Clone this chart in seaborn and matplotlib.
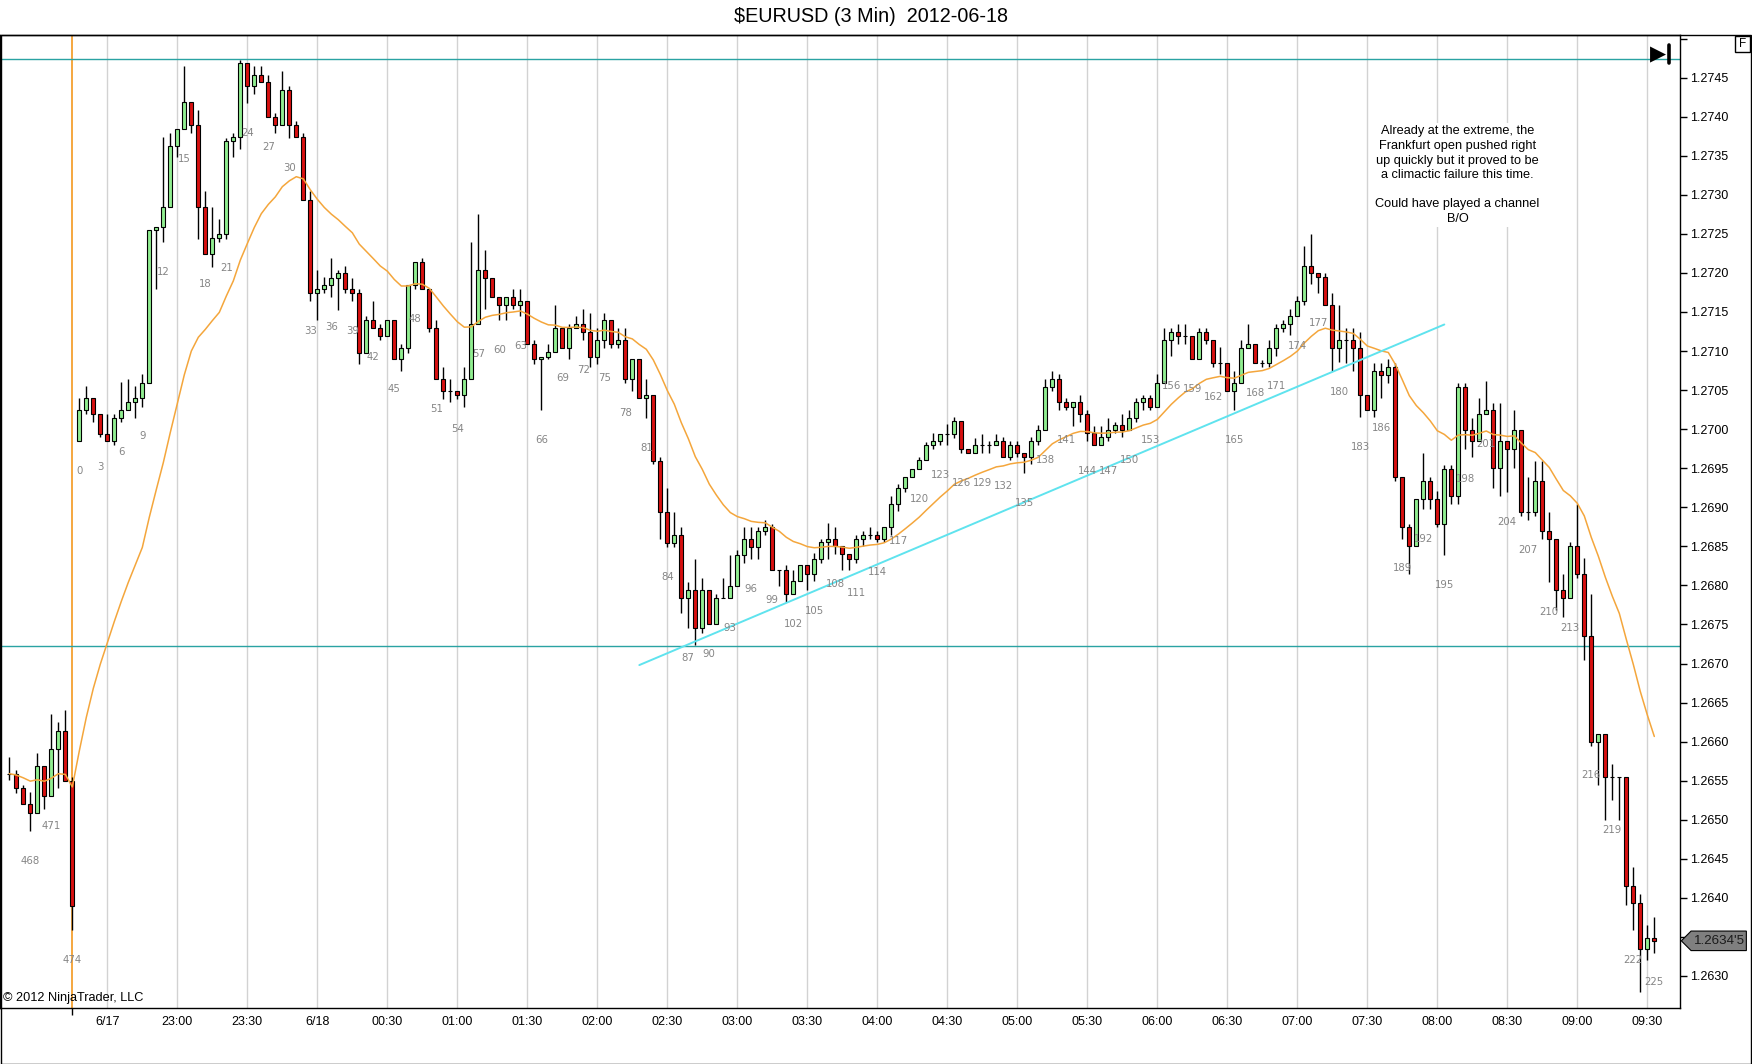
import matplotlib.pyplot as plt
import matplotlib.transforms as mtransforms
import numpy as np
import pandas as pd
import seaborn as sns
from matplotlib.lines import Line2D
from matplotlib.patches import Polygon, Rectangle

# bar index: -10..-1 are the last bars of the previous session (465-474), 0..225 today
bar_index = np.arange(-10, 226)

opens = [
    1.26559, 1.26559, 1.26540, 1.26520, 1.26509, 1.26569, 1.26530, 1.26590, 1.26614, 1.26550,
    1.26985, 1.27025, 1.27040, 1.27020, 1.26994, 1.26985, 1.27014, 1.27025, 1.27035, 1.27040,
    1.27059, 1.27255, 1.27259, 1.27285, 1.27363, 1.27384, 1.27419, 1.27389, 1.27285, 1.27224,
    1.27245, 1.27250, 1.27369, 1.27374, 1.27469, 1.27439, 1.27454, 1.27444, 1.27400, 1.27389,
    1.27434, 1.27389, 1.27374, 1.27294, 1.27174, 1.27179, 1.27184, 1.27194, 1.27200, 1.27179,
    1.27174, 1.27098, 1.27140, 1.27130, 1.27119, 1.27140, 1.27090, 1.27104, 1.27184, 1.27214,
    1.27179, 1.27130, 1.27064, 1.27049, 1.27049, 1.27044, 1.27064, 1.27135, 1.27204, 1.27194,
    1.27169, 1.27159, 1.27169, 1.27159, 1.27164, 1.27109, 1.27090, 1.27093, 1.27099, 1.27129,
    1.27104, 1.27129, 1.27135, 1.27124, 1.27093, 1.27114, 1.27140, 1.27109, 1.27114, 1.27064,
    1.27090, 1.27040, 1.27044, 1.26959, 1.26894, 1.26854, 1.26865, 1.26784, 1.26794, 1.26745,
    1.26794, 1.26750, 1.26784, 1.26784, 1.26799, 1.26839, 1.26860, 1.26849, 1.26869, 1.26875,
    1.26820, 1.26820, 1.26789, 1.26805, 1.26826, 1.26815, 1.26834, 1.26855, 1.26860, 1.26850,
    1.26840, 1.26834, 1.26860, 1.26865, 1.26865, 1.26860, 1.26875, 1.26904, 1.26925, 1.26939,
    1.26949, 1.26960, 1.26980, 1.26985, 1.26994, 1.26994, 1.27010, 1.26975, 1.26969, 1.26980,
    1.26980, 1.26980, 1.26985, 1.26965, 1.26980, 1.26970, 1.26965, 1.26985, 1.26999, 1.27054,
    1.27064, 1.27035, 1.27029, 1.27035, 1.27020, 1.26995, 1.26980, 1.26990, 1.26999, 1.27005,
    1.26999, 1.27014, 1.27035, 1.27040, 1.27029, 1.27059, 1.27114, 1.27124, 1.27119, 1.27119,
    1.27090, 1.27124, 1.27114, 1.27085, 1.27085, 1.27049, 1.27059, 1.27104, 1.27109, 1.27085,
    1.27085, 1.27104, 1.27130, 1.27135, 1.27145, 1.27164, 1.27209, 1.27200, 1.27195, 1.27159,
    1.27104, 1.27114, 1.27114, 1.27104, 1.27044, 1.27025, 1.27075, 1.27069, 1.27079, 1.26939,
    1.26875, 1.26850, 1.26910, 1.26934, 1.26910, 1.26879, 1.26949, 1.26915, 1.27054, 1.26999,
    1.26985, 1.27019, 1.27025, 1.26950, 1.26985, 1.26975, 1.26999, 1.26894, 1.26894, 1.26934,
    1.26870, 1.26860, 1.26794, 1.26784, 1.26850, 1.26814, 1.26735, 1.26600, 1.26610, 1.26555,
    1.26555, 1.26555, 1.26415, 1.26394, 1.26335, 1.26349,
]
highs = [
    1.26580, 1.26564, 1.26545, 1.26535, 1.26585, 1.26569, 1.26635, 1.26625, 1.26640, 1.26555,
    1.27040, 1.27055, 1.27040, 1.27020, 1.27020, 1.27020, 1.27060, 1.27064, 1.27055, 1.27070,
    1.27255, 1.27259, 1.27374, 1.27379, 1.27384, 1.27465, 1.27419, 1.27409, 1.27305, 1.27285,
    1.27269, 1.27373, 1.27379, 1.27472, 1.27469, 1.27465, 1.27465, 1.27454, 1.27405, 1.27459,
    1.27439, 1.27395, 1.27379, 1.27305, 1.27204, 1.27195, 1.27219, 1.27204, 1.27209, 1.27194,
    1.27179, 1.27145, 1.27164, 1.27135, 1.27140, 1.27140, 1.27109, 1.27184, 1.27214, 1.27219,
    1.27179, 1.27140, 1.27079, 1.27064, 1.27049, 1.27079, 1.27240, 1.27275, 1.27230, 1.27194,
    1.27169, 1.27169, 1.27179, 1.27179, 1.27164, 1.27114, 1.27093, 1.27109, 1.27159, 1.27129,
    1.27135, 1.27145, 1.27154, 1.27149, 1.27129, 1.27149, 1.27140, 1.27129, 1.27129, 1.27090,
    1.27090, 1.27064, 1.27044, 1.26964, 1.26925, 1.26894, 1.26875, 1.26804, 1.26834, 1.26809,
    1.26794, 1.26789, 1.26809, 1.26839, 1.26845, 1.26875, 1.26875, 1.26875, 1.26884, 1.26879,
    1.26820, 1.26826, 1.26820, 1.26826, 1.26826, 1.26841, 1.26860, 1.26880, 1.26875, 1.26850,
    1.26840, 1.26864, 1.26869, 1.26875, 1.26869, 1.26875, 1.26915, 1.26930, 1.26939, 1.26949,
    1.26965, 1.26984, 1.26995, 1.26994, 1.27007, 1.27015, 1.27010, 1.26975, 1.26989, 1.26994,
    1.26985, 1.26994, 1.26990, 1.26985, 1.26985, 1.26970, 1.26990, 1.27005, 1.27064, 1.27075,
    1.27070, 1.27040, 1.27035, 1.27044, 1.27025, 1.27004, 1.27004, 1.27014, 1.27009, 1.27020,
    1.27025, 1.27040, 1.27044, 1.27044, 1.27070, 1.27130, 1.27130, 1.27135, 1.27135, 1.27119,
    1.27130, 1.27130, 1.27114, 1.27105, 1.27085, 1.27075, 1.27114, 1.27135, 1.27109, 1.27089,
    1.27114, 1.27135, 1.27140, 1.27154, 1.27170, 1.27235, 1.27250, 1.27200, 1.27200, 1.27174,
    1.27159, 1.27130, 1.27130, 1.27124, 1.27044, 1.27085, 1.27085, 1.27090, 1.27085, 1.26939,
    1.26879, 1.26910, 1.26970, 1.26939, 1.26921, 1.26954, 1.26954, 1.27059, 1.27059, 1.27014,
    1.27040, 1.27062, 1.27034, 1.27034, 1.26985, 1.27025, 1.26999, 1.26939, 1.26959, 1.26959,
    1.26894, 1.26860, 1.26815, 1.26855, 1.26904, 1.26835, 1.26789, 1.26610, 1.26610, 1.26571,
    1.26555, 1.26555, 1.26440, 1.26405, 1.26365, 1.26376,
]
lows = [
    1.26551, 1.26534, 1.26520, 1.26485, 1.26509, 1.26514, 1.26530, 1.26540, 1.26550, 1.26359,
    1.26985, 1.27020, 1.27009, 1.26990, 1.26985, 1.26980, 1.27009, 1.27025, 1.27014, 1.27029,
    1.27059, 1.27179, 1.27239, 1.27285, 1.27349, 1.27384, 1.27379, 1.27244, 1.27224, 1.27208,
    1.27239, 1.27244, 1.27349, 1.27359, 1.27418, 1.27429, 1.27444, 1.27400, 1.27379, 1.27389,
    1.27373, 1.27374, 1.27294, 1.27164, 1.27140, 1.27174, 1.27169, 1.27153, 1.27174, 1.27164,
    1.27084, 1.27098, 1.27130, 1.27114, 1.27119, 1.27090, 1.27074, 1.27098, 1.27179, 1.27179,
    1.27124, 1.27064, 1.27039, 1.27035, 1.27039, 1.27029, 1.27064, 1.27135, 1.27154, 1.27169,
    1.27140, 1.27140, 1.27154, 1.27145, 1.27109, 1.27084, 1.27024, 1.27090, 1.27099, 1.27104,
    1.27090, 1.27129, 1.27114, 1.27079, 1.27084, 1.27104, 1.27104, 1.27104, 1.27059, 1.27049,
    1.27040, 1.27014, 1.26956, 1.26860, 1.26849, 1.26849, 1.26765, 1.26745, 1.26724, 1.26739,
    1.26750, 1.26750, 1.26784, 1.26784, 1.26799, 1.26829, 1.26834, 1.26834, 1.26865, 1.26820,
    1.26799, 1.26779, 1.26789, 1.26805, 1.26794, 1.26805, 1.26829, 1.26834, 1.26840, 1.26820,
    1.26820, 1.26829, 1.26850, 1.26860, 1.26855, 1.26855, 1.26864, 1.26895, 1.26919, 1.26939,
    1.26949, 1.26960, 1.26975, 1.26980, 1.26980, 1.26989, 1.26969, 1.26969, 1.26969, 1.26969,
    1.26969, 1.26980, 1.26965, 1.26960, 1.26965, 1.26944, 1.26955, 1.26980, 1.26999, 1.27049,
    1.27024, 1.27024, 1.27004, 1.27009, 1.26985, 1.26980, 1.26980, 1.26985, 1.26995, 1.26990,
    1.26999, 1.27009, 1.27025, 1.27025, 1.27029, 1.27059, 1.27094, 1.27109, 1.27109, 1.27090,
    1.27090, 1.27109, 1.27080, 1.27070, 1.27049, 1.27025, 1.27059, 1.27104, 1.27085, 1.27079,
    1.27079, 1.27094, 1.27124, 1.27120, 1.27145, 1.27159, 1.27186, 1.27174, 1.27159, 1.27075,
    1.27086, 1.27085, 1.27075, 1.27015, 1.27025, 1.27015, 1.27040, 1.27059, 1.26934, 1.26860,
    1.26815, 1.26850, 1.26898, 1.26898, 1.26875, 1.26839, 1.26904, 1.26904, 1.26974, 1.26964,
    1.26985, 1.27019, 1.26925, 1.26915, 1.26920, 1.26950, 1.26889, 1.26884, 1.26889, 1.26860,
    1.26804, 1.26769, 1.26760, 1.26784, 1.26810, 1.26704, 1.26595, 1.26545, 1.26500, 1.26525,
    1.26500, 1.26391, 1.26359, 1.26280, 1.26320, 1.26330,
]
closes = [
    1.26559, 1.26540, 1.26520, 1.26509, 1.26569, 1.26530, 1.26590, 1.26614, 1.26550, 1.26390,
    1.27025, 1.27040, 1.27020, 1.26994, 1.26985, 1.27014, 1.27025, 1.27035, 1.27040, 1.27059,
    1.27255, 1.27259, 1.27285, 1.27363, 1.27384, 1.27419, 1.27389, 1.27285, 1.27224, 1.27245,
    1.27250, 1.27369, 1.27374, 1.27469, 1.27439, 1.27454, 1.27444, 1.27400, 1.27389, 1.27434,
    1.27389, 1.27374, 1.27294, 1.27174, 1.27179, 1.27184, 1.27194, 1.27200, 1.27179, 1.27174,
    1.27098, 1.27140, 1.27130, 1.27119, 1.27140, 1.27090, 1.27104, 1.27184, 1.27214, 1.27179,
    1.27130, 1.27064, 1.27049, 1.27049, 1.27044, 1.27064, 1.27135, 1.27204, 1.27194, 1.27169,
    1.27159, 1.27169, 1.27159, 1.27164, 1.27109, 1.27090, 1.27093, 1.27099, 1.27129, 1.27104,
    1.27129, 1.27135, 1.27124, 1.27093, 1.27114, 1.27140, 1.27109, 1.27114, 1.27064, 1.27090,
    1.27040, 1.27044, 1.26959, 1.26894, 1.26854, 1.26865, 1.26784, 1.26794, 1.26745, 1.26794,
    1.26750, 1.26784, 1.26784, 1.26799, 1.26839, 1.26860, 1.26849, 1.26869, 1.26875, 1.26820,
    1.26820, 1.26789, 1.26805, 1.26826, 1.26815, 1.26834, 1.26855, 1.26860, 1.26850, 1.26840,
    1.26834, 1.26860, 1.26865, 1.26865, 1.26860, 1.26875, 1.26904, 1.26925, 1.26939, 1.26949,
    1.26960, 1.26980, 1.26985, 1.26994, 1.26994, 1.27010, 1.26975, 1.26969, 1.26980, 1.26980,
    1.26980, 1.26985, 1.26965, 1.26980, 1.26970, 1.26965, 1.26985, 1.26999, 1.27054, 1.27064,
    1.27035, 1.27029, 1.27035, 1.27020, 1.26995, 1.26980, 1.26990, 1.26999, 1.27005, 1.26999,
    1.27014, 1.27035, 1.27040, 1.27029, 1.27059, 1.27114, 1.27124, 1.27119, 1.27119, 1.27090,
    1.27124, 1.27114, 1.27085, 1.27085, 1.27049, 1.27059, 1.27104, 1.27109, 1.27085, 1.27085,
    1.27104, 1.27130, 1.27135, 1.27145, 1.27164, 1.27209, 1.27200, 1.27195, 1.27159, 1.27104,
    1.27114, 1.27114, 1.27104, 1.27044, 1.27025, 1.27075, 1.27069, 1.27079, 1.26939, 1.26875,
    1.26850, 1.26910, 1.26934, 1.26910, 1.26879, 1.26949, 1.26915, 1.27054, 1.26999, 1.26985,
    1.27019, 1.27025, 1.26950, 1.26985, 1.26975, 1.26999, 1.26894, 1.26894, 1.26934, 1.26870,
    1.26860, 1.26794, 1.26784, 1.26850, 1.26814, 1.26735, 1.26600, 1.26610, 1.26555, 1.26555,
    1.26555, 1.26415, 1.26394, 1.26335, 1.26349, 1.26345,
]

tick_bars = list(range(4, 225, 10))
tick_labels = ["6/17", "23:00", "23:30", "6/18", "00:30", "01:00", "01:30", "02:00",
               "02:30", "03:00", "03:30", "04:00", "04:30", "05:00", "05:30", "06:00",
               "06:30", "07:00", "07:30", "08:00", "08:30", "09:00", "09:30"]
price_ticks = [round(1.2630 + 0.0005 * k, 4) for k in range(25)]

session_break = -1
h_levels = [1.27474, 1.26723]
channel_x = [80, 195]
channel_y = [1.26698, 1.27134]

note = ("Already at the extreme, the\nFrankfurt open pushed right\n"
        "up quickly but it proved to be\na climactic failure this time.\n\n"
        "Could have played a channel\nB/O")

GREEN = "#90ee90"
RED = "#d81010"

sns.set_theme(style="white")
plt.rcParams["font.family"] = ["Liberation Sans", "DejaVu Sans"]

df = pd.DataFrame({"bar": bar_index, "open": opens, "high": highs,
                   "low": lows, "close": closes})
df["num"] = np.where(df["bar"] < 0, df["bar"] + 475, df["bar"])
df["ema"] = df["close"].ewm(span=20, adjust=False).mean()

W, H = 1752, 1064
fig = plt.figure(figsize=(W / 100, H / 100), dpi=100)
fig.patch.set_facecolor("white")
ax = fig.add_axes([0, 1 - 1008 / H, 1680 / W, (1008 - 35) / H])
ax.set_facecolor("white")

# grid and reference lines
for tb in tick_bars:
    ax.axvline(tb, color="#d2d2d2", lw=1.0, zorder=1)
ax.axvline(session_break, color="#f5a030", lw=1.3, zorder=2)
for lvl in h_levels:
    ax.axhline(lvl, color="#2aa3a3", lw=1.0, zorder=2)

# candles
colors = np.where(df["close"] > df["open"], GREEN,
                  np.where(df["close"] < df["open"], RED, "black"))
ax.vlines(df["bar"], df["low"], df["high"], color="black", lw=1.0, zorder=3)
ax.bar(df["bar"], (df["close"] - df["open"]).abs(),
       bottom=np.minimum(df["open"], df["close"]), width=0.62,
       color=colors, edgecolor="black", linewidth=0.8, zorder=4)

# EMA and channel line
sns.lineplot(x=df["bar"], y=df["ema"], color="#f4a63c", lw=1.1, ax=ax, zorder=5)
sns.lineplot(x=channel_x, y=channel_y, color="#5fe3ee", lw=1.4, ax=ax, zorder=5)

# bar numbers every 3rd bar
for _, r in df.iterrows():
    if r["num"] % 3 == 0 and r["bar"] >= -9:
        ax.annotate(str(int(r["num"])), xy=(r["bar"], r["low"]), xytext=(0, -21.5),
                    textcoords="offset points", ha="center", va="center",
                    fontsize=7.3, color="#858585", family="DejaVu Sans", zorder=6)

ax.set_xlim(-11.33, 228.67)
ax.set_ylim(1.262590, 1.275046)
ax.set_xlabel("")
ax.set_ylabel("")

ax.set_xticks(tick_bars)
ax.set_xticklabels(tick_labels, fontsize=9)
ax.set_xticks([session_break], minor=True)
ax.tick_params(axis="x", which="major", length=0, pad=5.5, colors="black")
ax.tick_params(axis="x", which="minor", length=5, width=1, color="black", bottom=True)

# the 1.2635 label sits under the last-price marker, 1.2750 is cut off at the top
last_price = closes[-1]
ax.yaxis.tick_right()
ax.set_yticks(price_ticks)
ax.set_yticklabels([f"{p:.4f}" if (p < 1.2749 and abs(p - last_price) > 0.0002) else ""
                    for p in price_ticks], fontsize=9)
ax.tick_params(axis="y", which="major", length=5, width=1, pad=2, colors="black", right=True)

for s in ax.spines.values():
    s.set_visible(True)
    s.set_color("black")
    s.set_linewidth(1.0)

# annotation
ax.text(0.8675, 0.907, note, transform=ax.transAxes, ha="center", va="top",
        multialignment="center", fontsize=9.2, linespacing=1.28, color="black",
        bbox=dict(facecolor="white", edgecolor="none", pad=1.5), zorder=7)

ax.text(0.0015, 0.004, "\u00a9 2012 NinjaTrader, LLC", transform=ax.transAxes,
        ha="left", va="bottom", fontsize=9.2, color="black", zorder=7)

# last price marker (pentagon pointing at the axis)
trans = mtransforms.blended_transform_factory(ax.transAxes, ax.transData)
hh = 0.000125
marker = Polygon([(1.0008, last_price), (1.0066, last_price + hh), (1.0395, last_price + hh),
                  (1.0395, last_price - hh), (1.0066, last_price - hh)],
                 closed=True, transform=trans, facecolor="#7f7f7f", edgecolor="black",
                 lw=0.8, clip_on=False, zorder=8)
ax.add_patch(marker)
ax.text(1.0082, last_price, "1.2634'5", transform=trans, ha="left", va="center",
        fontsize=9.6, color="#1a1a1a", clip_on=False, zorder=9)

# title and chrome
fig.text(871.5 / W, 1 - 17 / H, "\\$EURUSD (3 Min)  2012-06-18", ha="center",
         va="center", fontsize=14.2, color="black")
fig.add_artist(Rectangle((0.5 / W, 0.5 / H), (W - 2) / W, (H - 35.5) / H,
                         transform=fig.transFigure, fill=False, edgecolor="black", lw=1.0))
fig.text(1658 / W, 1 - 54 / H, "\u25b6", ha="center", va="center", fontsize=15,
         family="DejaVu Sans", color="black")
fig.add_artist(Line2D([1669 / W, 1669 / W], [1 - 45 / H, 1 - 63 / H],
                      transform=fig.transFigure, color="black", lw=2.6))
fig.add_artist(Rectangle((1735 / W, 1 - 52 / H), 15 / W, 16 / H,
                         transform=fig.transFigure, fill=False, edgecolor="black", lw=1.0))
fig.text(1742.5 / W, 1 - 44 / H, "F", ha="center", va="center", fontsize=8.5, color="black")

fig.savefig("out.png", dpi=100)
